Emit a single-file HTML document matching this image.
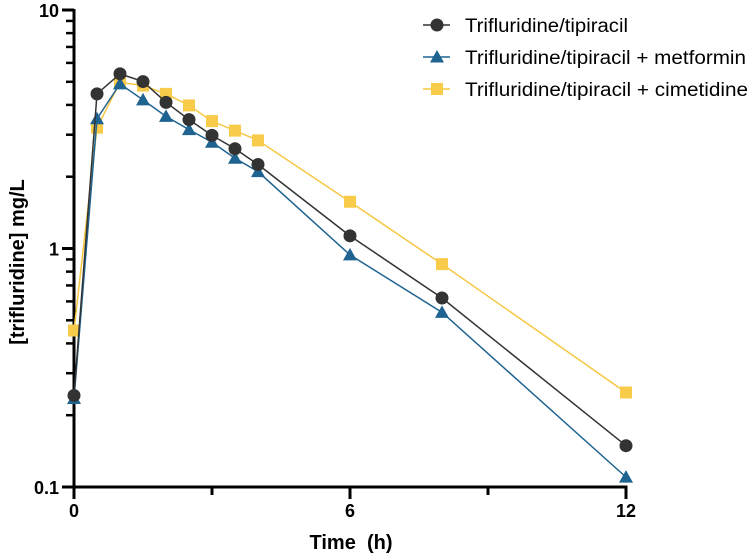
<!DOCTYPE html>
<html><head><meta charset="utf-8"><style>
body{margin:0;background:#fff;}
svg{display:block;font-family:"Liberation Sans",Arial,sans-serif;}
</style></head><body>
<svg id="chart" width="749" height="560" viewBox="0 0 749 560">
<g id="axes"></g>
<g id="series"></g>
<g id="legend"></g>
<text x="0" y="0" transform="translate(24,262) rotate(-90)" text-anchor="middle" font-size="20" font-weight="bold">[trifluridine] mg/L</text>
<text x="351" y="549" text-anchor="middle" font-size="20" font-weight="bold" xml:space="preserve">Time  (h)</text>
</svg>
<script>
const times = [0,0.5,1,1.5,2,2.5,3,3.5,4,6,8,12];
const seriesNames = ["Trifluridine/tipiracil","Trifluridine/tipiracil  + metformin","Trifluridine/tipiracil  + cimetidine"];
const baseValues = [0.242,4.45,5.40,5.01,4.10,3.47,2.98,2.62,2.25,1.13,0.62,0.149];
const metforminValues = [0.235,3.50,4.90,4.20,3.58,3.15,2.79,2.39,2.10,0.94,0.54,0.11];
const cimetidineValues = [0.453,3.21,4.98,4.82,4.45,3.98,3.42,3.12,2.84,1.57,0.86,0.249];
const xTicks = [0,6,12];
const xMinorTicks = [3,9];
const yTickLabels = ["0.1","1","10"];

const NS="http://www.w3.org/2000/svg";
const x0=74,x1=626,yTop=10,yBot=487;
function xs(t){return x0+(x1-x0)*t/12;}
function ys(v){return yBot-(Math.log10(v)+1)/2*(yBot-yTop);}
function mk(tag,attrs,parent){const e=document.createElementNS(NS,tag);for(const k in attrs)e.setAttribute(k,attrs[k]);parent.appendChild(e);return e;}
const axes=document.getElementById('axes');
let e;
e=mk('line',{x1:x0,y1:yTop-1,x2:x0,y2:yBot+1,stroke:'#000','stroke-width':3},axes);


e=mk('line',{x1:x0-1.5,y1:yBot,x2:x1+1.5,y2:yBot,stroke:'#000','stroke-width':3},axes);


xTicks.forEach(t=>{
  e=mk('line',{x1:xs(t),y1:yBot,x2:xs(t),y2:yBot+12,stroke:'#000','stroke-width':3},axes);
  
  
  e=mk('text',{x:xs(t),y:yBot+30,'text-anchor':'middle','font-size':18,'font-weight':'bold'},axes);
  e.textContent=t;
  
  
});
xMinorTicks.forEach(t=>{
  e=mk('line',{x1:xs(t),y1:yBot,x2:xs(t),y2:yBot+8,stroke:'#000','stroke-width':3},axes);
  
  
});
yTickLabels.forEach(l=>{
  const v=parseFloat(l);
  e=mk('line',{x1:x0-12,y1:ys(v),x2:x0,y2:ys(v),stroke:'#000','stroke-width':3},axes);
  
  
  e=mk('text',{x:x0-15,y:ys(v)+7,'text-anchor':'end','font-size':18,'font-weight':'bold'},axes);
  e.textContent=l;
  
  
});
[0.1,1].forEach(d=>{for(let m=2;m<=9;m++){const v=d*m;
  e=mk('line',{x1:x0-8,y1:ys(v),x2:x0,y2:ys(v),stroke:'#000','stroke-width':2.5},axes);
  
  
}});
const colors=['#333333','#1f6391','#f8cc4a'];
const shapes=['circle','triangle','square'];
const lineColors=['#333333','#1f6391','#f5c842'];
function marker(shape,cx,cy,col,parent){
  if(shape==='circle') return mk('circle',{cx:cx,cy:cy,r:6.5,fill:col},parent);
  if(shape==='triangle') return mk('polygon',{points:`${cx},${cy-7} ${cx-7},${cy+5.5} ${cx+7},${cy+5.5}`,fill:col},parent);
  return mk('rect',{x:cx-6,y:cy-6,width:12,height:12,fill:col},parent);
}
const ser=document.getElementById('series');
const allVals=[baseValues,metforminValues,cimetidineValues];
[2,1,0].forEach(i=>{
  const vals=allVals[i];
  const g=mk('g',{},ser);
  
  
  const pts=times.map((t,j)=>xs(t)+','+ys(vals[j])).join(' ');
  e=mk('polyline',{points:pts,fill:'none',stroke:lineColors[i],'stroke-width':1.5},g);
  
  
  times.forEach((t,j)=>{
    e=marker(shapes[i],xs(t),ys(vals[j]),colors[i],g);
    
    
  });
});
const leg=document.getElementById('legend');
const legY=[25,57,89];
const legLen=[163,281,283];
seriesNames.forEach((n,i)=>{
  const g=mk('g',{},leg);
  
  
  mk('line',{x1:423,y1:legY[i],x2:450,y2:legY[i],stroke:lineColors[i],'stroke-width':1.5},g);
  marker(shapes[i],437,legY[i],colors[i],g);
  e=mk('text',{x:465,y:legY[i]+7,'font-size':19,textLength:legLen[i],lengthAdjust:'spacingAndGlyphs'},g);
  e.setAttribute('xml:space','preserve');
  e.textContent=n;
  
  
});
</script>
</body></html>
